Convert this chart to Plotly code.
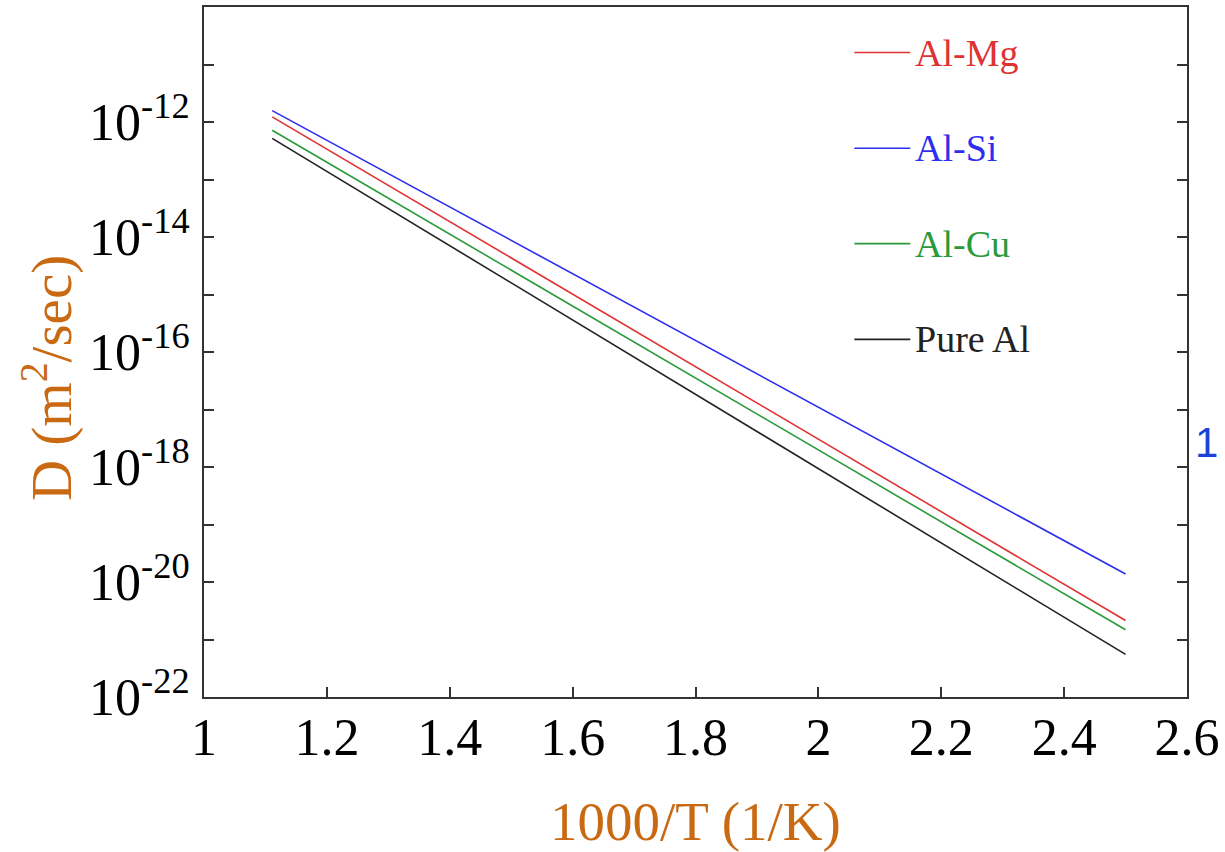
import plotly.graph_objects as go

# Data (x = 1000/T, D in m^2/s)
x_vals = [1.111, 2.5]
series_names = ["Al-Mg", "Al-Si", "Al-Cu", "Pure Al"]
d_al_mg = [1.23e-12, 2.14e-21]
d_al_si = [1.58e-12, 1.38e-20]
d_al_cu = [7.2e-13, 1.48e-21]
d_pure_al = [5.2e-13, 5.5e-22]
colors = ["#E03232", "#2E2EEE", "#2A9A3A", "#222222"]

y_exps = list(range(-22, -9))
y_tickvals = [10.0 ** e for e in y_exps]
y_ticktext = [f"10<sup>{e}</sup>" if e % 2 == 0 and e >= -22 and e <= -12 else "" for e in y_exps]
x_tickvals = [1, 1.2, 1.4, 1.6, 1.8, 2, 2.2, 2.4, 2.6]
x_ticktext = ["1", "1.2", "1.4", "1.6", "1.8", "2", "2.2", "2.4", "2.6"]

W, H = 1225, 852
ML, MR, MT, MB = 204, 37, 5, 155
PW, PH = W - ML - MR, H - MT - MB

def px(xp):
    return (xp - ML) / PW

def py(yp):
    return (H - MB - yp) / PH

fig = go.Figure()
for name, d, c in zip(series_names, [d_al_mg, d_al_si, d_al_cu, d_pure_al], colors):
    fig.add_trace(go.Scatter(x=x_vals, y=d, mode="lines", name=name,
                             line=dict(color=c, width=1.6), showlegend=False))

serif = "Liberation Serif, Times New Roman, serif"
orange = "#C96A12"

fig.update_layout(
    width=W, height=H,
    margin=dict(l=ML, r=MR, t=MT, b=MB),
    paper_bgcolor="white", plot_bgcolor="white",
    font=dict(family=serif, color="black"),
)
fig.update_xaxes(
    range=[1, 2.6], tickvals=x_tickvals, ticktext=x_ticktext,
    ticks="inside", ticklen=10, tickwidth=1.5, tickcolor="#333",
    showline=True, linecolor="#333", linewidth=2, mirror=True,
    showgrid=False, zeroline=False,
    tickfont=dict(family=serif, size=52, color="black"),
    ticklabelstandoff=-6,
)
fig.update_yaxes(
    type="log", range=[-22, -10], tickvals=y_tickvals, ticktext=y_ticktext,
    ticks="inside", ticklen=10, tickwidth=1.5, tickcolor="#333",
    showline=True, linecolor="#333", linewidth=2, mirror="ticks",
    showgrid=False, zeroline=False,
    tickfont=dict(family=serif, size=52, color="black"),
    ticklabelstandoff=2,
)

ann = []
# axis titles
ann.append(dict(text="D (m<sup>2</sup>/sec)", x=px(48), y=py(377), xref="paper", yref="paper",
                textangle=-90, showarrow=False, xanchor="center", yanchor="middle",
                font=dict(family=serif, size=57, color=orange)))
ann.append(dict(text="1000/T (1/K)", x=px(696), y=py(822), xref="paper", yref="paper",
                showarrow=False, xanchor="center", yanchor="middle",
                font=dict(family=serif, size=55, color=orange)))
# stray label on the right
ann.append(dict(text="1", x=px(1208), y=py(442), xref="paper", yref="paper",
                showarrow=False, xanchor="center", yanchor="middle",
                font=dict(family="Liberation Sans, Arial, sans-serif", size=42, color="#1A44D6")))

shapes = []
legend_y = [50.7, 146.7, 242.3, 338.3]
for name, c, ly in zip(series_names, colors, legend_y):
    shapes.append(dict(type="line", xref="paper", yref="paper",
                       x0=px(855), x1=px(911), y0=py(ly), y1=py(ly),
                       line=dict(color=c, width=1.6)))
    ann.append(dict(text=name, x=px(914), y=py(ly), xref="paper", yref="paper",
                    showarrow=False, xanchor="left", yanchor="middle",
                    font=dict(family=serif, size=38, color=c)))

fig.update_layout(annotations=ann, shapes=shapes)
fig.write_html("out.html")
